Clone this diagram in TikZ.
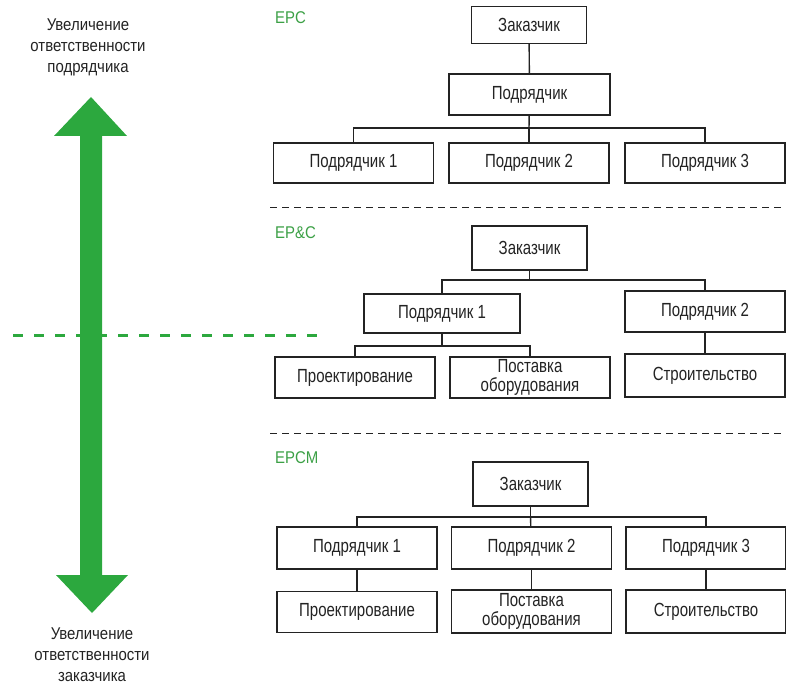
\documentclass[tikz,border=0pt]{standalone}
\usepackage{fontspec}
\setmainfont{Liberation Sans}[FakeStretch=0.79]
\newfontfamily\sidefont{Liberation Sans}[FakeStretch=0.88]
\definecolor{arrgreen}{RGB}{44,168,62}
\definecolor{lblgreen}{RGB}{60,160,70}
\definecolor{ink}{RGB}{35,35,35}
\tikzset{
  unit/.style={draw=ink, line width=1.4pt, minimum width=160pt, minimum height=41pt, inner sep=0pt, align=center, text=ink},
  client/.style={unit, minimum width=115pt, minimum height=40pt},
  tag/.style={anchor=west, text=lblgreen, inner sep=0pt, font=\sidefont\fontsize{17}{20}\selectfont},
  wire/.style={draw=ink, line width=1.4pt},
  side/.style={align=center, text=ink, font=\sidefont\fontsize{17}{21}\selectfont},
}
\begin{document}
\begin{tikzpicture}[x=1pt, y=-1pt, line cap=butt, line join=miter, font=\fontsize{19}{19}\selectfont]
\useasboundingbox (0,0) rectangle (786,684);
% green double arrow
\fill[arrgreen] (91,97) -- (127,136) -- (102,136) -- (102,575) -- (128,575) -- (92,613)
  -- (56,575) -- (80,575) -- (80,136) -- (54,136) -- cycle;
\draw[arrgreen, line width=3pt, dash pattern=on 10pt off 11pt] (13,335) -- (317,335);
\node[side] (up) at (88,47) {Увеличение\\ответственности\\подрядчика};
\node[side] (down) at (92,655) {Увеличение\\ответственности\\заказчика};
% separators
\foreach \y in {207,433}
  \draw[ink, line width=0.9pt, dash pattern=on 7pt off 5pt] (270,\y) -- (786,\y);
\foreach \lbl/\y/\nm in {EPC/18/t1, EP\&C/233/t2, EPCM/458/t3}
  \node[tag] (\nm) at (275,\y) {\lbl};
% EPC
\node[client, minimum height=37pt] (z1) at (529,25) {Заказчик};
\node[unit, minimum width=161pt] (p0) at (529.5,94.5) {Подрядчик};
\foreach \i/\x in {1/353.5, 2/529, 3/705}
  \node[unit, minimum height=40pt] (a\i) at (\x,163) {Подрядчик \i};
\coordinate (bus1) at (529,128);
\draw[wire] (z1) -- (p0);
\draw[wire] (p0) -- (bus1);
\draw[wire] (a1.north) |- (bus1) -| (a3.north);
\draw[wire] (a2) -- (bus1);
% EP&C
\node[client, minimum height=44pt] (z2) at (529.5,248) {Заказчик};
\node[unit, minimum width=156pt, minimum height=39pt] (b1) at (442,313.5) {Подрядчик 1};
\node[unit] (b2) at (705,311.5) {Подрядчик 2};
\node[unit] (c1) at (355,377.5) {Проектирование};
\node[unit] (c2) at (530,377.5) {Поставка\\оборудования};
\node[unit, minimum height=43pt] (c3) at (705,375.5) {Строительство};
\coordinate (bus2) at (529.5,280);
\coordinate (bus3) at (442,346);
\draw[wire] (z2) -- (bus2);
\draw[wire] (b1.north) |- (bus2) -| (b2.north);
\draw[wire] (b1) -- (bus3);
\draw[wire] (c1.north) |- (bus3) -| (c2.north);
\draw[wire] (b2) -- (c3);
% EPCM
\node[client, minimum height=44pt] (z3) at (530.5,484) {Заказчик};
\foreach \i/\x in {1/357, 2/531.5, 3/706}
  \node[unit, minimum height=42pt] (d\i) at (\x,548) {Подрядчик \i};
\node[unit] (e1) at (357,612) {Проектирование};
\node[unit, minimum height=43pt] (e2) at (531.5,611.5) {Поставка\\оборудования};
\node[unit, minimum height=43pt] (e3) at (706,611.5) {Строительство};
\coordinate (bus4) at (530.5,517);
\draw[wire] (z3) -- (bus4);
\draw[wire] (d1.north) |- (bus4) -| (d3.north);
\draw[wire] (d2) -- (bus4);
\foreach \i in {1,2,3}
  \draw[wire] (d\i) -- (e\i);
\end{tikzpicture}
\end{document}
